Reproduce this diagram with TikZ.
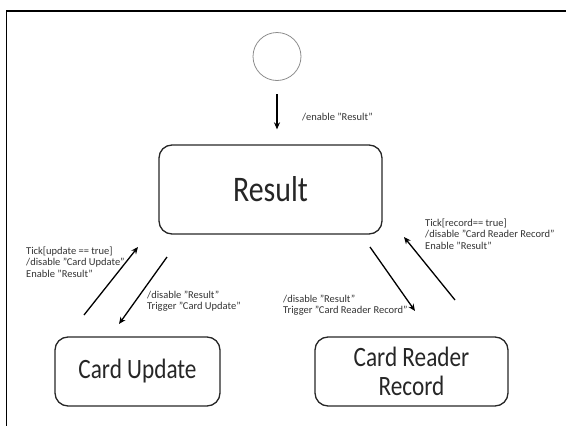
\documentclass[tikz,border=0pt]{standalone}
\usepackage{fontspec}
\setmainfont{Carlito}
\newfontfamily\statefont[FakeStretch=0.83]{Carlito}
\usetikzlibrary{arrows.meta}
\begin{document}
\begin{tikzpicture}[x=1pt,y=-1pt,
  state/.style={draw=black!85, line width=1.3pt, rounded corners=13pt,
    align=center, inner sep=0pt, text=black!85,
    font=\statefont\fontsize{28}{29}\selectfont},
  initial/.style={circle, draw=black!45, line width=0.8pt,
    minimum size=48pt, inner sep=0pt},
  lbl/.style={anchor=west, align=left, inner sep=0pt, text=black!80,
    font=\fontsize{10.5}{11.5}\selectfont},
  trans/.style={line width=1.3pt, -{Stealth[length=7pt,width=6pt]}}]
\useasboundingbox (0,0) rectangle (566,426);

% outer frame (left and top edges)
\draw[line width=1.5pt] (6.5,426) -- (6.5,10.8) -- (566,10.8);

% states
\node[initial] (init) at (277,56.5) {};
\node[state, minimum width=223pt, minimum height=89pt,
      font=\statefont\fontsize{36}{38}\selectfont] (result) at (270.5,189.5) {Result};
\node[state, minimum width=165pt, minimum height=69pt] (cardupd) at (137.5,371.5) {Card Update};
\node[state, minimum width=193pt, minimum height=69pt] (cardrec) at (411.5,371.5) {Card Reader\\Record};

% transition end points
\coordinate (luA) at (84,315);
\coordinate (luB) at (138,247);
\coordinate (ldA) at (167,257);
\coordinate (ldB) at (119,324);
\coordinate (rdA) at (370,247);
\coordinate (rdB) at (415,311);
\coordinate (ruA) at (455,300);
\coordinate (ruB) at (404,237);

% transitions
\draw[trans, shorten <=13.5pt, shorten >=15pt] (init.south) -- (init.south |- result.north);
\draw[trans] (luA) -- (luB);
\draw[trans] (ldA) -- (ldB);
\draw[trans] (rdA) -- (rdB);
\draw[trans] (ruA) -- (ruB);

% transition labels
\node[lbl] (tenable) at (302,117) {/enable "Result"};
\node[lbl] (tupd) at (26,262) {Tick[update == true]\\/disable "Card Update"\\Enable "Result"};
\node[lbl] (ttrigupd) at (147,301) {/disable "Result"\\Trigger "Card Update"};
\node[lbl] (ttrigrec) at (283,305) {/disable "Result"\\Trigger "Card Reader Record"};
\node[lbl] (trec) at (425,234) {Tick[record== true]\\/disable "Card Reader Record"\\Enable "Result"};
\end{tikzpicture}
\end{document}
